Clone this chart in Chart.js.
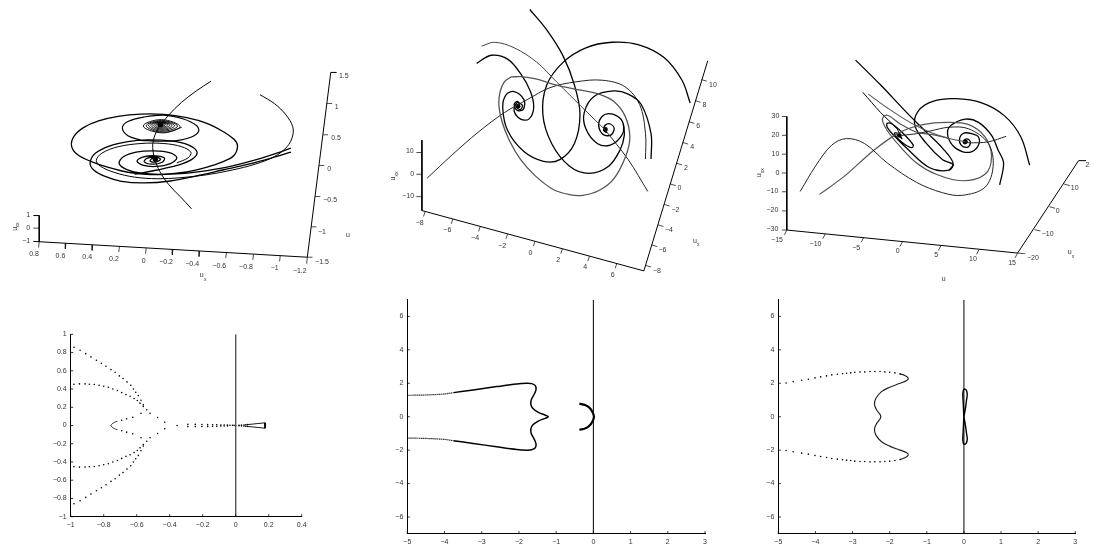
<!DOCTYPE html>
<html>
<head>
<meta charset="utf-8">
<title>Phase portraits and spectra</title>
<script src="https://cdn.jsdelivr.net/npm/chart.js@4"></script>
<style>
  html, body { margin: 0; padding: 0; background: #fff; overflow: hidden; }
  canvas { position: absolute; }
</style>
</head>
<body>
<canvas id="p1"></canvas>
<canvas id="p2"></canvas>
<canvas id="p3"></canvas>
<canvas id="p4"></canvas>
<canvas id="p5"></canvas>
<canvas id="p6"></canvas>
<script>
'use strict';

// ── Top row: projected 3D coordinates ─────────────────────────────────────────

const p1Through = [[635,115],[590,145],[545,180],[505,220],[475,258],[460,290],[456,320],[462,355],[478,395],[505,435],[540,472],[575,510]];
const p1Arc     = [[785,157],[830,185],[865,220],[885,255],[885,285],[868,318],[830,348],[770,372],[700,390],[620,405],[540,414],[470,417],[400,412],[340,398],[295,378],[283,360],[300,338],[350,318],[420,308],[490,308],[545,318],[573,335],[565,352],[530,368]];
const p1TailA   = [[880,322],[830,340],[760,362],[680,382],[600,395],[530,402],[450,404],[380,397],[320,382],[270,365],[225,342],[207,315],[215,285],[245,258],[290,238],[350,224],[420,217],[490,218],[560,228],[620,245],[670,270],[705,295],[716,315],[705,345],[670,365],[620,382],[560,396],[490,403],[420,400],[375,388],[353,370],[365,350],[405,335],[460,331],[510,337],[530,352],[510,370],[465,379],[425,375],[408,362],[425,350],[465,346],[492,353],[485,366],[455,372],[430,365],[438,354],[465,350],[480,357],[465,365],[448,362],[455,354],[470,356],[464,362],[458,358]];
const p1TailB   = [[880,335],[820,353],[750,372],[670,390],[590,408],[510,424],[430,430],[360,425],[310,410],[275,390],[264,368],[280,338],[325,315],[380,302],[440,297],[510,300],[565,312],[592,335],[575,358],[530,376],[470,390],[400,403]];
const p1BigRing = [[420,298],[380,284],[363,260],[380,240],[430,226],[490,220],[550,232],[590,252],[597,270],[575,288],[530,299],[480,301],[420,298]];
const p1Rings   = [[545,258],[485,275],[427,254],[482,234],[540,256],[485,273],[436,253],[482,237],[532,254],[484,270],[443,252],[482,239],[523,253],[483,267],[450,251],[481,241],[515,252],[483,264],[456,250],[481,242],[508,251],[482,261],[462,250],[481,243],[502,250],[482,258],[467,249],[481,244],[496,249],[481,256],[471,249],[481,245],[491,249],[481,254],[475,249],[481,247],[484,249],[480,250]];
const p1Foci    = [[480,249],[464,357]];

const p1AxisZ   = [[930,660],[1002,88],[1020,88]];
const p1AxisX   = [[108,612],[930,660]];
const p1AxisY   = [[90,531],[108,531],[108,612],[90,611]];
const p1Ticks   = [
  [[990,184],[1006,184]],[[978,281],[994,281]],[[966,376],[982,376]],[[954,472],[970,472]],[[942,566],[958,566]],[[930,660],[946,660]],
  [[108,612],[106,630]],[[190,617],[188,634]],[[272,622],[270,639]],[[354,627],[352,644]],[[436,632],[434,649]],[[518,636],[516,653]],
  [[600,641],[598,658]],[[682,646],[680,663]],[[765,651],[763,668]],[[847,656],[845,673]],[[930,660],[928,680]],[[90,570],[108,570]]
];
const p1Labels  = [
  ['1.5',1042,100],['1',1020,196],['0.5',1018,292],['0',997,388],['−0.5',1000,484],['−1',975,581],['−1.5',975,675],['u',1055,590],
  ['0.8',92,650],['0.6',173,655],['0.4',255,660],['0.2',337,665],['0',428,672],['−0.2',497,674],['−0.4',577,680],['−0.6',660,686],['−0.8',742,690],['−1',830,695],['−1.2',907,702],
  ['1',74,530],['0',74,570],['−1',68,610],['u',606,715]
];
const p1Subs    = [['x',617,730]];
const p1Rotated = [['u',33,572],['xx',42,560]];

const p2Thin   = [[163,537],[240,465],[320,395],[400,335],[470,295],[540,258],[620,240],[700,235],[770,255],[815,310],[833,400],[833,478]];
const p2CrossA = [[330,130],[370,118],[430,135],[500,180],[560,240],[630,310],[708,387]];
const p2CrossB = [[708,387],[780,480],[840,578]];
const p2Left   = [[315,183],[360,158],[410,170],[450,215],[480,270],[490,320],[475,355],[450,355],[430,330],[438,305],[455,312],[450,325],[440,320],[440,312]];
const p2Top    = [[478,17],[530,80],[580,160],[615,250],[632,340],[615,430],[570,480],[520,485],[460,455],[410,390],[395,320],[405,280],[430,270],[460,295],[458,325],[440,328],[430,310],[440,300],[448,310]];
const p2Arch   = [[970,305],[945,235],[890,165],[810,125],[730,118],[650,135],[580,180],[530,250],[518,340],[545,430],[600,500],[660,522],[720,500],[755,450],[768,405],[765,370]];
const p2Right  = [[850,478],[850,400],[820,310],[780,278],[735,268],[675,285],[645,335],[650,385],[685,430],[725,435],[760,405],[765,370],[745,345],[710,340],[690,365],[700,400],[725,405],[737,385],[725,370],[710,373],[705,390],[715,397]];
const p2Grey   = [[420,225],[400,240],[387,270],[383,310],[392,360],[415,420],[450,480],[495,530],[550,572],[600,588],[640,590],[690,575],[735,540],[772,470],[785,410],[770,345],[735,300],[690,278],[630,265],[560,250],[500,232],[450,224],[420,225]];
const p2Foci   = [[442,315],[710,387]];

const p2Axes   = [[[147,420],[147,637],[828,823],[1024,175]]];
const p2Ticks  = [
  [[130,458],[147,458]],[[130,525],[147,525]],[[130,594],[147,594]],
  [[157,640],[152,655]],[[242,663],[237,678]],[[326,686],[321,701]],[[410,709],[405,724]],[[494,732],[489,747]],[[578,755],[573,770]],[[661,778],[656,793]],[[745,800],[740,815]],
  [[833,806],[850,811]],[[852,743],[869,748]],[[871,681],[888,686]],[[890,618],[907,623]],[[909,555],[926,560]],[[928,491],[945,496]],[[947,427],[964,432]],[[966,363],[983,368]],[[985,298],[1002,303]],[[1004,233],[1021,238]]
];
const p2Labels = [
  ['10',110,455],['0',117,525],['−10',105,592],
  ['−8',140,675],['−6',225,698],['−4',310,722],['−2',393,745],['0',480,767],['2',565,790],['4',648,812],['6',732,835],
  ['−8',868,822],['−6',885,760],['−4',905,698],['−2',925,635],['0',937,568],['2',957,505],['4',976,442],['6',995,377],['8',1014,313],['10',1040,250],['u',985,730]
];
const p2Subs    = [['x',995,742]];
const p2Rotated = [['u',60,538],['xx',69,524]];

const p3Wave   = [[203,578],[250,500],[300,435],[345,415],[400,430],[470,490],[560,550],[640,582],[700,590],[770,565],[795,500],[780,430],[720,385],[660,380],[600,392],[560,400],[515,405]];
const p3Rise   = [[262,587],[340,530],[430,450],[510,395],[580,372],[650,365],[720,372],[770,410],[790,470],[770,525],[700,545],[620,525],[560,490],[510,440],[470,390],[455,355],[470,343],[510,370],[560,395],[610,403],[660,415]];
const p3Long   = [[373,173],[450,250],[530,335],[590,395],[640,445],[672,490],[660,512],[600,505],[530,445],[490,405],[470,380],[470,368],[485,370],[520,400],[550,435],[545,443],[520,430],[500,412],[492,398],[505,400],[515,415],[508,407]];
const p3Wedge  = [[412,278],[470,320],[540,365],[600,395],[660,415],[710,425]];
const p3Short  = [[395,272],[450,335],[500,385],[508,405]];
const p3Tail   = [[835,408],[780,425],[720,428],[710,425]];
const p3Outer  = [[907,497],[880,410],[830,345],[760,305],[680,292],[610,300],[565,330],[555,375],[590,430],[640,480],[672,495],[660,512]];
const p3Inner  = [[815,558],[827,490],[810,450],[790,405],[750,365],[710,355],[665,375],[655,400],[670,435],[700,455],[730,455],[750,435],[750,410],[730,400],[705,398],[692,415],[697,435],[715,442],[725,430],[720,418],[708,418],[703,427],[710,432]];
const p3Foci   = [[507,405],[710,425]];

const p3Axes   = [[[162,347],[162,697],[870,768],[1057,483],[1080,483]]];
const p3Ticks  = [
  [[147,347],[162,347]],[[147,405],[162,405]],[[147,463],[162,463]],[[147,521],[162,521]],[[147,579],[162,579]],[[147,638],[162,638]],[[147,697],[162,697]],
  [[162,697],[155,712]],[[280,709],[272,724]],[[398,720],[390,735]],[[517,733],[509,748]],[[635,745],[627,760]],[[752,757],[744,772]],[[870,768],[862,783]],
  [[870,768],[893,770]],[[922,696],[940,700]],[[968,625],[985,630]],[[1012,555],[1030,560]]
];
const p3Labels = [
  ['30',127,346],['20',127,404],['10',127,462],['0',133,520],['−10',118,578],['−20',118,636],['−30',118,695],
  ['−15',132,727],['−10',250,740],['−5',375,752],['0',502,763],['5',620,775],['10',733,787],['15',853,800],
  ['−20',917,782],['−10',962,710],['0',993,640],['10',1045,568],['u',1030,765],['u',643,848],['2',1084,497]
];
const p3Subs    = [['x',1040,780]];
const p3Rotated = [['u',78,528],['xx',87,514]];

// ── Bottom row: eigenvalues in the complex plane ──────────────────────────────

const p4XTicks = [-1,-0.8,-0.6,-0.4,-0.2,0,0.2,0.4];
const p4YTicks = [-1,-0.8,-0.6,-0.4,-0.2,0,0.2,0.4,0.6,0.8,1];
const p5XTicks = [-5,-4,-3,-2,-1,0,1,2,3];
const p5YTicks = [-6,-4,-2,0,2,4,6];

const p4OuterUp = [[-0.98,0.858],[-0.943,0.825],[-0.909,0.788],[-0.877,0.752],[-0.844,0.715],[-0.814,0.682],[-0.786,0.65],[-0.756,0.613],[-0.731,0.584],[-0.705,0.544],[-0.683,0.515],[-0.659,0.478],[-0.636,0.442],[-0.62,0.401],[-0.606,0.365],[-0.59,0.328],[-0.574,0.277],[-0.56,0.226]];
const p4OuterDn = [[-0.98,-0.858],[-0.943,-0.825],[-0.909,-0.788],[-0.877,-0.752],[-0.844,-0.715],[-0.814,-0.682],[-0.786,-0.65],[-0.756,-0.613],[-0.731,-0.584],[-0.705,-0.544],[-0.683,-0.515],[-0.659,-0.478],[-0.636,-0.442],[-0.62,-0.401],[-0.606,-0.365],[-0.59,-0.328],[-0.574,-0.277],[-0.56,-0.226]];
const p4InnerUp = [[-0.98,0.453],[-0.947,0.456],[-0.913,0.456],[-0.887,0.453],[-0.857,0.449],[-0.828,0.442],[-0.8,0.431],[-0.772,0.42],[-0.745,0.401],[-0.717,0.383],[-0.691,0.361],[-0.665,0.339],[-0.64,0.321],[-0.616,0.296],[-0.596,0.274],[-0.58,0.245],[-0.56,0.208],[-0.539,0.172],[-0.519,0.135],[-0.473,0.088],[-0.43,0.036]];
const p4InnerDn = [[-0.98,-0.453],[-0.947,-0.456],[-0.913,-0.456],[-0.887,-0.453],[-0.857,-0.449],[-0.828,-0.442],[-0.8,-0.431],[-0.772,-0.42],[-0.745,-0.401],[-0.717,-0.383],[-0.691,-0.361],[-0.665,-0.339],[-0.64,-0.321],[-0.616,-0.296],[-0.596,-0.274],[-0.58,-0.245],[-0.56,-0.208],[-0.539,-0.172],[-0.519,-0.135],[-0.473,-0.088],[-0.43,-0.036]];
const p4LobeTip = [[-0.717,0.047],[-0.737,0.033],[-0.749,0.018],[-0.756,0],[-0.749,-0.018],[-0.737,-0.033],[-0.717,-0.047]];
const p4LobeDot = [[-0.691,0.058],[-0.661,0.073],[-0.624,0.091],[-0.574,0.135],[-0.691,-0.058],[-0.661,-0.073],[-0.624,-0.091],[-0.574,-0.135]];
const p4Row     = [[-0.355,0],[-0.29,0.012],[-0.29,-0.012],[-0.245,0.012],[-0.245,-0.012],[-0.205,0.011],[-0.205,-0.011],[-0.17,0.01],[-0.17,-0.01],[-0.14,0.009],[-0.14,-0.009],[-0.115,0.008],[-0.115,-0.008],[-0.09,0.006],[-0.09,-0.006],[-0.07,0.005],[-0.07,-0.005],[-0.05,0.004],[-0.05,-0.004],[-0.035,0.003],[-0.02,0.002],[-0.01,0.001],[0,0],[0.02,0.002],[0.02,-0.002],[0.035,0.004],[0.035,-0.004],[0.05,0.006],[0.05,-0.006],[0.06,0.008],[0.06,-0.008],[0.07,0.01],[0.07,-0.01]];
const p4WedgeUp = [[0.07,0.01],[0.1,0.015],[0.13,0.021],[0.16,0.026],[0.178,0.03]];
const p4WedgeDn = [[0.07,-0.01],[0.1,-0.015],[0.13,-0.021],[0.16,-0.026],[0.178,-0.03]];
const p4Cap     = [[0.178,0.03],[0.178,-0.03]];
const p4Imag    = [[0,-1],[0,1]];

const p5DotsUp  = [[-5,1.28],[-4.5,1.3],[-4,1.36],[-3.76,1.44]];
const p5DotsDn  = [[-5,-1.28],[-4.5,-1.3],[-4,-1.36],[-3.76,-1.44]];
const p5Curve   = [[-3.76,1.44],[-3.23,1.6],[-2.6,1.8],[-2.06,1.96],[-1.79,2],[-1.66,1.98],[-1.56,1.86],[-1.54,1.64],[-1.59,1.34],[-1.67,1],[-1.68,0.74],[-1.63,0.5],[-1.48,0.26],[-1.3,0.1],[-1.21,0],[-1.3,-0.1],[-1.48,-0.26],[-1.63,-0.5],[-1.68,-0.74],[-1.67,-1],[-1.59,-1.34],[-1.54,-1.64],[-1.56,-1.86],[-1.66,-1.98],[-1.79,-2],[-2.06,-1.96],[-2.6,-1.8],[-3.23,-1.6],[-3.76,-1.44]];
const p5Arc     = [[-0.376,0.78],[-0.224,0.7],[-0.108,0.54],[-0.027,0.3],[0.018,0],[-0.027,-0.3],[-0.108,-0.54],[-0.224,-0.7],[-0.376,-0.78]];
const p5Imag    = [[0,-7],[0,7]];

const p6DotsUp  = [[-4.79,2.02],[-4.6,2.1],[-4.37,2.18],[-4.19,2.24],[-4.01,2.32],[-3.86,2.38],[-3.7,2.44],[-3.56,2.5],[-3.41,2.54],[-3.27,2.58],[-3.16,2.6],[-3.05,2.62],[-2.94,2.66],[-2.8,2.68],[-2.67,2.68],[-2.53,2.7],[-2.4,2.7],[-2.26,2.7],[-2.13,2.68],[-2,2.66],[-1.86,2.62],[-1.72,2.56]];
const p6DotsDn  = [[-4.79,-2.02],[-4.6,-2.1],[-4.37,-2.18],[-4.19,-2.24],[-4.01,-2.32],[-3.86,-2.38],[-3.7,-2.44],[-3.56,-2.5],[-3.41,-2.54],[-3.27,-2.58],[-3.16,-2.6],[-3.05,-2.62],[-2.94,-2.66],[-2.8,-2.68],[-2.67,-2.68],[-2.53,-2.7],[-2.4,-2.7],[-2.26,-2.7],[-2.13,-2.68],[-2,-2.66],[-1.86,-2.62],[-1.72,-2.56]];
const p6Curve   = [[-1.72,2.56],[-1.59,2.46],[-1.5,2.3],[-1.54,2.16],[-1.72,2],[-2,1.76],[-2.22,1.5],[-2.37,1.1],[-2.41,0.74],[-2.35,0.4],[-2.26,0.14],[-2.24,0],[-2.26,-0.14],[-2.35,-0.4],[-2.41,-0.74],[-2.37,-1.1],[-2.22,-1.5],[-2,-1.76],[-1.72,-2],[-1.54,-2.16],[-1.5,-2.3],[-1.59,-2.46],[-1.72,-2.56]];
const p6Eight   = [[0,0],[0.04,0.5],[0.07,1],[0.09,1.35],[0.06,1.6],[0,1.65],[-0.03,1.4],[-0.02,0.9],[-0.01,0.4],[0,0],[0.04,-0.5],[0.07,-1],[0.09,-1.35],[0.06,-1.6],[0,-1.65],[-0.03,-1.4],[-0.02,-0.9],[-0.01,-0.4],[0,0]];
const p6Imag    = [[0,-7],[0,7]];

// ── Helpers ───────────────────────────────────────────────────────────────────

const FONT = '"Liberation Sans", Arial, sans-serif';
const TEXT = '#333';

const pts = list => list.map(([x, y]) => ({ x, y }));

const fmtTick = v => String(Math.round(v * 10) / 10).replace('-', '−');

function curve(data, color, width, tension = 0.35) {
  return { data: pts(data), showLine: true, borderColor: color, borderWidth: width, pointRadius: 0, tension, fill: false };
}

function dots(data, radius = 0.8) {
  return { data: pts(data), showLine: false, pointRadius: radius, pointBackgroundColor: '#000', pointBorderWidth: 0 };
}

function place(id, left, top, w, h) {
  const c = document.getElementById(id);
  c.width = w;
  c.height = h;
  c.style.left = left + 'px';
  c.style.top = top + 'px';
  c.style.width = w + 'px';
  c.style.height = h + 'px';
  return c;
}

// text that sits in the projected panels, positioned through the scales
const projectedText = {
  id: 'projectedText',
  afterDatasetsDraw(chart, args, opts) {
    const { ctx, scales: { x, y } } = chart;
    ctx.save();
    ctx.fillStyle = TEXT;
    ctx.textAlign = 'center';
    ctx.textBaseline = 'middle';
    ctx.font = `7px ${FONT}`;
    opts.labels.forEach(([t, px, py]) => ctx.fillText(t, x.getPixelForValue(px), y.getPixelForValue(py)));
    ctx.font = `5px ${FONT}`;
    opts.subs.forEach(([t, px, py]) => ctx.fillText(t, x.getPixelForValue(px), y.getPixelForValue(py)));
    opts.rotated.forEach(([t, px, py], i) => {
      ctx.save();
      ctx.translate(x.getPixelForValue(px), y.getPixelForValue(py));
      ctx.rotate(-Math.PI / 2);
      ctx.font = `${i === 0 ? 7 : 5}px ${FONT}`;
      ctx.fillText(t, 0, 0);
      ctx.restore();
    });
    ctx.restore();
  },
};

// Matlab style ticks point into the plot
const inwardTicks = {
  id: 'inwardTicks',
  afterDraw(chart) {
    const { ctx, chartArea: a, scales: { x, y } } = chart;
    ctx.save();
    ctx.strokeStyle = '#000';
    ctx.lineWidth = 0.8;
    ctx.beginPath();
    x.ticks.forEach(t => {
      const px = x.getPixelForValue(t.value);
      ctx.moveTo(px, a.bottom);
      ctx.lineTo(px, a.bottom - 2.5);
    });
    y.ticks.forEach(t => {
      const py = y.getPixelForValue(t.value);
      ctx.moveTo(a.left, py);
      ctx.lineTo(a.left + 2.5, py);
    });
    ctx.stroke();
    ctx.restore();
  },
};

function projected(id, left, top, w, h, datasets, text) {
  return new Chart(place(id, left, top, w, h), {
    type: 'scatter',
    data: { datasets },
    plugins: [projectedText],
    options: {
      responsive: false,
      animation: false,
      layout: { padding: 0 },
      plugins: { legend: { display: false }, tooltip: { enabled: false }, projectedText: text },
      scales: {
        x: { display: false, min: 0, max: w * 3 },
        y: { display: false, min: 0, max: h * 3, reverse: true },
      },
    },
  });
}

function plane(id, box, xr, yr, xTicks, yTicks, datasets) {
  const { left, top, w, h, axisLeft, axisRight, axisTop, axisBottom } = box;
  return new Chart(place(id, left, top, w, h), {
    type: 'scatter',
    data: { datasets },
    plugins: [inwardTicks],
    options: {
      responsive: false,
      animation: false,
      layout: { padding: { top: axisTop - top, right: left + w - axisRight, left: 0, bottom: 0 } },
      plugins: { legend: { display: false }, tooltip: { enabled: false } },
      scales: {
        x: {
          min: xr[0], max: xr[1],
          afterBuildTicks: s => { s.ticks = xTicks.map(value => ({ value })); },
          afterFit: s => { s.height = top + h - axisBottom; },
          grid: { display: false, drawTicks: false },
          border: { display: true, color: '#000', width: 1 },
          ticks: { maxRotation: 0, autoSkip: false, padding: 4, color: TEXT, font: { size: 7, family: FONT }, callback: fmtTick },
        },
        y: {
          min: yr[0], max: yr[1],
          afterBuildTicks: s => { s.ticks = yTicks.map(value => ({ value })); },
          afterFit: s => { s.width = axisLeft - left; },
          grid: { display: false, drawTicks: false },
          border: { display: true, color: '#000', width: 1 },
          ticks: { autoSkip: false, padding: 4, color: TEXT, font: { size: 7, family: FONT }, callback: fmtTick },
        },
      },
    },
  });
}

// ── Panels ────────────────────────────────────────────────────────────────────

const BLK = '#000';
const GRY = '#555';

projected('p1', 0, 40, 370, 260, [
  curve(p1Through, BLK, 1),
  curve(p1Arc, BLK, 1),
  curve(p1TailA, BLK, 1.3),
  curve(p1TailB, BLK, 1.3),
  curve(p1BigRing, BLK, 1.2),
  curve(p1Rings, BLK, 0.9, 0.42),
  dots(p1Foci, 2.6),
  curve(p1AxisZ, BLK, 1, 0),
  curve(p1AxisX, BLK, 1, 0),
  curve(p1AxisY, BLK, 1, 0),
  ...p1Ticks.map(t => curve(t, BLK, 0.7, 0)),
], { labels: p1Labels, subs: p1Subs, rotated: p1Rotated });

projected('p2', 370, 0, 360, 295, [
  curve(p2Grey, GRY, 1.3),
  curve(p2Thin, '#222', 1),
  curve(p2CrossA, '#444', 1),
  curve(p2CrossB, '#222', 1),
  curve(p2Left, BLK, 1.3),
  curve(p2Top, BLK, 1.3),
  curve(p2Arch, BLK, 1.3),
  curve(p2Right, BLK, 1.3),
  dots(p2Foci, 2.4),
  ...p2Axes.map(a => curve(a, BLK, 1, 0)),
  ...p2Ticks.map(t => curve(t, BLK, 0.7, 0)),
], { labels: p2Labels, subs: p2Subs, rotated: p2Rotated });

projected('p3', 730, 0, 363, 295, [
  curve(p3Wave, '#222', 1),
  curve(p3Rise, GRY, 1.2),
  curve(p3Wedge, GRY, 1.1),
  curve(p3Tail, '#222', 1),
  curve(p3Short, BLK, 1),
  curve(p3Long, BLK, 1.3),
  curve(p3Outer, BLK, 1.3),
  curve(p3Inner, BLK, 1.3),
  dots(p3Foci, 2.4),
  ...p3Axes.map(a => curve(a, BLK, 1, 0)),
  ...p3Ticks.map(t => curve(t, BLK, 0.7, 0)),
], { labels: p3Labels, subs: p3Subs, rotated: p3Rotated });

plane('p4', { left: 30, top: 320, w: 285, h: 215, axisLeft: 70.7, axisRight: 301.7, axisTop: 334.3, axisBottom: 516.7 },
  [-1, 0.4], [-1, 1], p4XTicks, p4YTicks, [
    curve(p4Imag, GRY, 1.4, 0),
    dots(p4OuterUp), dots(p4OuterDn), dots(p4InnerUp), dots(p4InnerDn), dots(p4Row), dots(p4LobeDot),
    curve(p4LobeTip, '#222', 0.9),
    curve(p4WedgeUp, BLK, 0.9, 0),
    curve(p4WedgeDn, BLK, 0.9, 0),
    curve(p4Cap, BLK, 2, 0),
  ]);

plane('p5', { left: 370, top: 290, w: 350, h: 258, axisLeft: 407.3, axisRight: 705, axisTop: 299.7, axisBottom: 533.7 },
  [-5, 3], [-7, 7], p5XTicks, p5YTicks, [
    curve(p5Imag, BLK, 1, 0),
    { ...curve(p5DotsUp, BLK, 1.2), borderDash: [1.2, 0.8] },
    { ...curve(p5DotsDn, BLK, 1.2), borderDash: [1.2, 0.8] },
    curve(p5Curve, BLK, 1.5),
    curve(p5Arc, BLK, 2.2),
  ]);

plane('p6', { left: 745, top: 290, w: 345, h: 258, axisLeft: 778.3, axisRight: 1075.3, axisTop: 299.7, axisBottom: 533.7 },
  [-5, 3], [-7, 7], p5XTicks, p5YTicks, [
    curve(p6Imag, BLK, 1, 0),
    dots(p6DotsUp), dots(p6DotsDn),
    curve(p6Curve, '#222', 1.2),
    curve(p6Eight, BLK, 1.4),
  ]);
</script>
</body>
</html>
